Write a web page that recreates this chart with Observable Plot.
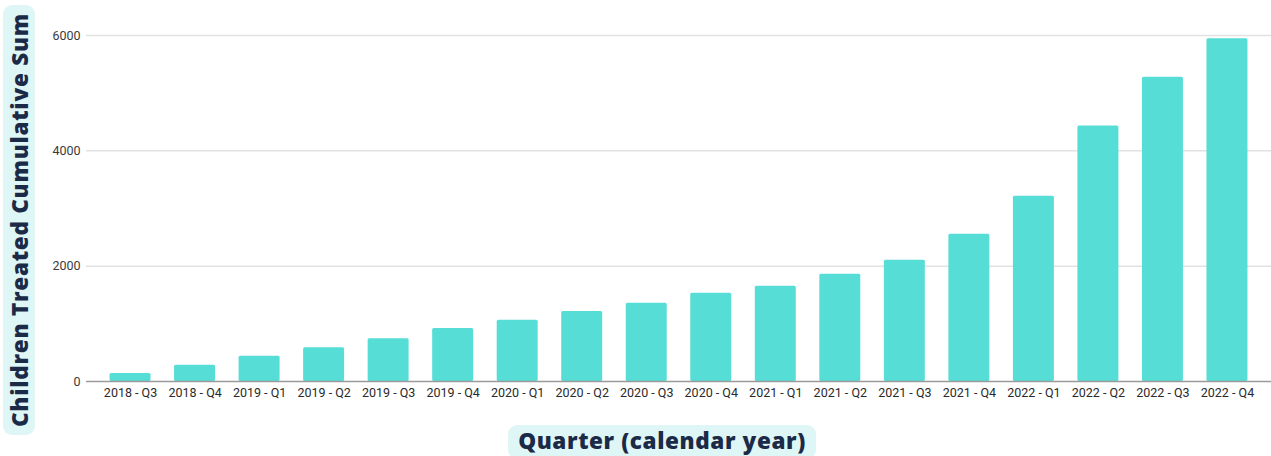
<!DOCTYPE html>
<html>
<head>
<meta charset="utf-8">
<script src="https://cdn.jsdelivr.net/npm/d3@7"></script>
<script src="https://cdn.jsdelivr.net/npm/@observablehq/plot@0.6"></script>
<style>
  html, body { margin: 0; padding: 0; background: #ffffff; }
  #wrap { position: relative; width: 1271px; height: 456px; overflow: hidden; }
  #chart { position: absolute; left: 0; top: 0; }
  .ybox { position: absolute; left: 3px; top: 5px; width: 32px; height: 430px; background: #dff6f6; border-radius: 9px; }
  .ytitle { position: absolute; left: 19px; top: 220px; transform: translate(-50%, -50%) rotate(-90deg); white-space: nowrap;
    font-family: "Open Sans", sans-serif; font-weight: 800; font-size: 22.5px; color: #1b2a47; letter-spacing: 0.75px; }
  .xbox { position: absolute; left: 508px; top: 425px; width: 308px; height: 34px; background: #dff6f6; border-radius: 9px; }
  .xtitle { position: absolute; left: 662px; top: 440px; transform: translate(-50%, -50%); white-space: nowrap;
    font-family: "Open Sans", sans-serif; font-weight: 800; font-size: 22.5px; color: #1b2a47; letter-spacing: 0.6px; }
</style>
</head>
<body>
<div id="wrap">
  <div id="chart"></div>
  <div class="ybox"></div>
  <div class="ytitle">Children Treated Cumulative Sum</div>
  <div class="xbox"></div>
  <div class="xtitle">Quarter (calendar year)</div>
</div>
<script>
const quarters = ["2018 - Q3","2018 - Q4","2019 - Q1","2019 - Q2","2019 - Q3","2019 - Q4",
  "2020 - Q1","2020 - Q2","2020 - Q3","2020 - Q4","2021 - Q1","2021 - Q2",
  "2021 - Q3","2021 - Q4","2022 - Q1","2022 - Q2","2022 - Q3","2022 - Q4"];
const values = [140, 283, 440, 585, 741, 920, 1060, 1216, 1355, 1529, 1650, 1859, 2102, 2553, 3213, 4429, 5275, 5945];
const yTicks = [0, 2000, 4000, 6000];

const data = quarters.map((q, i) => ({quarter: q, value: values[i]}));

const plot = Plot.plot({
  width: 1271,
  height: 410,
  marginLeft: 86,
  marginRight: 0,
  marginTop: 35,
  marginBottom: 29,
  style: {fontFamily: "Roboto, sans-serif", fontSize: "12.5px", color: "#444", background: "transparent"},
  x: {type: "band", domain: quarters, padding: 0.365, round: false, label: null},
  y: {domain: [0, 6000], label: null},
  marks: [
    Plot.ruleY(yTicks.filter(d => d > 0), {stroke: "#e2e2e2", strokeWidth: 1.5}),
    Plot.barY(data, {x: "quarter", y: "value", fill: "#56ddd6", rx: 1.5}),
    Plot.ruleY([0], {stroke: "#9a9a9a", strokeWidth: 1.5}),
    Plot.axisX({tickSize: 0, tickPadding: 7, fill: "#2a2a2a", label: null}),
    Plot.axisY({ticks: yTicks, tickSize: 0, tickPadding: 6, fill: "#3a3a3a", label: null, tickFormat: d => String(d)})
  ]
});
document.getElementById("chart").appendChild(plot);
</script>
</body>
</html>
